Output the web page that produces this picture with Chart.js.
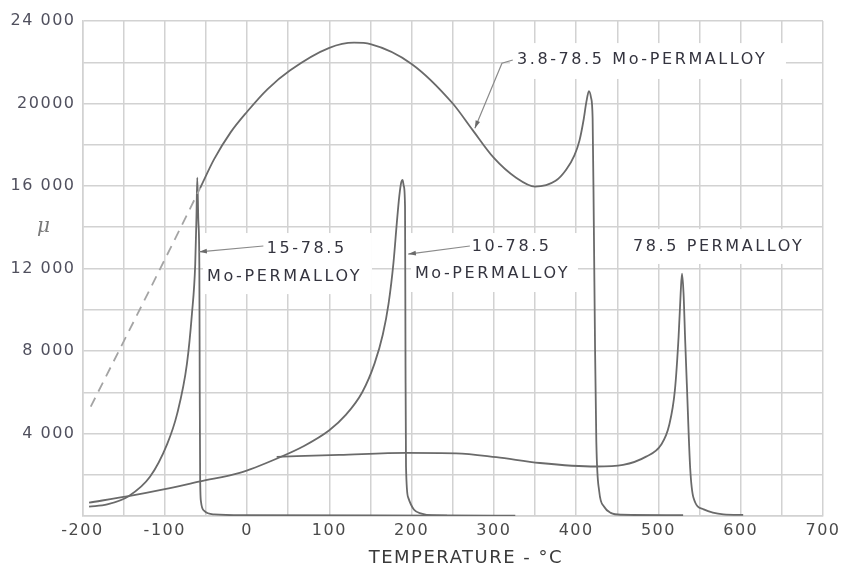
<!DOCTYPE html>
<html>
<head>
<meta charset="utf-8">
<script src="https://cdn.jsdelivr.net/npm/chart.js@4.4.1/dist/chart.umd.min.js"></script>
<style>
  body { margin: 0; background: #fff; }
  #wrap { width: 845px; height: 566px; }
</style>
</head>
<body>
<div id="wrap"><canvas id="permChart"></canvas></div>
<script>
// values (temperature in deg C, permeability mu)

// 3.8-78.5 Mo-Permalloy (dashed up to -57)
var temps38 = [-190, -123, -57, -40, -20, 0, 25, 52, 100, 130, 150, 200, 250, 274, 300, 327, 350, 375, 388, 398, 404, 409, 412.5, 415.5, 418, 420, 421.5, 423, 424.5, 428, 434, 442, 455, 530];
var mu38 = [5300, 10600, 15900, 17300, 18600, 19600, 20700, 21600, 22700, 22950, 22880, 21920, 20000, 18720, 17360, 16400, 15970, 16250, 16800, 17500, 18200, 19200, 20100, 20600, 20300, 19300, 14000, 8000, 3600, 1200, 450, 150, 60, 40];
var dashedUntil = -57;

// 15-78.5 Mo-Permalloy
var temps15 = [-192, -170, -144, -118, -97, -85, -73, -67, -63, -61.5, -60.5, -59.2, -58, -57.5, -57, -56, -52, -40, 0, 243];
var mu15 = [450, 560, 960, 1900, 3500, 4950, 7400, 9800, 12200, 14500, 16400, 14300, 12200, 6000, 1800, 700, 250, 80, 40, 20];

// 10-78.5 Mo-Permalloy
var temps10 = [-192, -144, -100, -57, -9, 40, 68, 100, 120, 140, 155, 165, 172, 178, 182, 185, 187.5, 189, 190.5, 192, 192.6, 193.2, 196, 203, 212, 225, 326];
var mu10 = [650, 960, 1300, 1680, 2090, 2850, 3370, 4160, 4900, 6000, 7400, 8800, 10300, 12300, 14200, 15500, 16200, 16300, 16000, 15000, 7200, 2400, 880, 300, 120, 40, 20];

// 78.5 Permalloy
var temps785 = [36, 112, 194, 254, 303, 356, 424, 457, 485, 503, 513, 520, 524.5, 527, 528.6, 530.5, 532.5, 534.6, 538.6, 542.6, 555, 579, 603];
var mu785 = [2870, 2960, 3060, 3040, 2850, 2570, 2400, 2480, 2880, 3440, 4400, 6100, 8700, 10800, 11750, 10800, 8500, 6300, 2300, 880, 320, 80, 50];

// tick labels
var xTickValues = [-200, -100, 0, 100, 200, 300, 400, 500, 600, 700];
var xTickText = ['-200', '-100', '0', '100', '200', '300', '400', '500', '600', '700'];
var yTickValues = [4000, 8000, 12000, 16000, 20000, 24000];
var yTickText = ['4 000', '8 000', '12 000', '16 000', '20000', '24 000'];

var curveColor = '#6a6a6a';
var gridColor = '#d2d2d2';
var textColor = '#34343f';

function toPoints(xs, ys) {
    var pts = [];
    for (var i = 0; i < xs.length; i++) {
        pts.push({ x: xs[i], y: ys[i] });
    }
    return pts;
}

// curve labels, placed in data units
var curveLabels = [
    { text: '3.8-78.5 Mo-PERMALLOY', x: 328, y: 22110 },
    { text: '15-78.5', x: 24, y: 12970 },
    { text: 'Mo-PERMALLOY', x: -48.7, y: 11610 },
    { text: '10-78.5', x: 273, y: 13060 },
    { text: 'Mo-PERMALLOY', x: 204, y: 11730 },
    { text: '78.5 PERMALLOY', x: 469, y: 13060 }
];
// white patches behind the labels (they hide the grid)
var labelBoxes = [
    [319.5, 22930, 655, 21190],
    [-53.5, 13720, 151.8, 10760],
    [199.2, 13720, 402.2, 10860],
    [462.9, 13910, 686.5, 12220]
];
// leader lines, last point carries an arrow
var leaders = [
    [[323, 22110], [309.8, 21950], [276.9, 18800]],
    [[19.8, 13090], [-58.1, 12810]],
    [[270.8, 13090], [195.9, 12700]]
];

var labelPlugin = {
    id: 'curveLabels',
    beforeDraw: function (chart) {
        chart.ctx.letterSpacing = '1.5px';
    },
    beforeDatasetsDraw: function (chart) {
        var ctx = chart.ctx, xs = chart.scales.x, ys = chart.scales.y;
        ctx.save();
        ctx.fillStyle = '#fff';
        labelBoxes.forEach(function (b) {
            var x0 = xs.getPixelForValue(b[0]), y0 = ys.getPixelForValue(b[1]);
            var x1 = xs.getPixelForValue(b[2]), y1 = ys.getPixelForValue(b[3]);
            ctx.fillRect(x0, y0, x1 - x0, y1 - y0);
        });
        ctx.restore();
    },
    afterDatasetsDraw: function (chart) {
        var ctx = chart.ctx, xs = chart.scales.x, ys = chart.scales.y;
        ctx.save();
        ctx.font = "16px 'DejaVu Sans'";
        ctx.letterSpacing = '2.6px';
        ctx.fillStyle = textColor;
        ctx.textAlign = 'left';
        ctx.textBaseline = 'middle';
        curveLabels.forEach(function (l) {
            ctx.fillText(l.text, xs.getPixelForValue(l.x), ys.getPixelForValue(l.y));
        });

        ctx.strokeStyle = '#8a8a8a';
        ctx.fillStyle = '#6a6a6a';
        ctx.lineWidth = 1.2;
        leaders.forEach(function (pts) {
            ctx.beginPath();
            pts.forEach(function (p, i) {
                var px = xs.getPixelForValue(p[0]), py = ys.getPixelForValue(p[1]);
                if (i === 0) ctx.moveTo(px, py); else ctx.lineTo(px, py);
            });
            ctx.stroke();
            // arrow head
            var a = pts[pts.length - 2], b = pts[pts.length - 1];
            var ax = xs.getPixelForValue(a[0]), ay = ys.getPixelForValue(a[1]);
            var bx = xs.getPixelForValue(b[0]), by = ys.getPixelForValue(b[1]);
            var ang = Math.atan2(by - ay, bx - ax);
            ctx.beginPath();
            ctx.moveTo(bx, by);
            ctx.lineTo(bx - 8 * Math.cos(ang - 0.3), by - 8 * Math.sin(ang - 0.3));
            ctx.lineTo(bx - 8 * Math.cos(ang + 0.3), by - 8 * Math.sin(ang + 0.3));
            ctx.closePath();
            ctx.fill();
        });

        // axis titles
        ctx.letterSpacing = '1.5px';
        ctx.fillStyle = '#3a3a3a';
        ctx.font = "18px 'DejaVu Sans'";
        ctx.textAlign = 'center';
        ctx.fillText('TEMPERATURE - °C', xs.getPixelForValue(266), chart.chartArea.bottom + 42);
        ctx.letterSpacing = '0px';
        ctx.fillStyle = '#7a7a7a';
        ctx.font = "italic 20px 'DejaVu Serif'";
        ctx.fillText('\u03bc', chart.chartArea.left - 39, ys.getPixelForValue(14000));
        ctx.restore();
    }
};

var lineBase = {
    borderColor: curveColor,
    borderWidth: 1.8,
    pointRadius: 0,
    fill: false,
    cubicInterpolationMode: 'monotone'
};

var ctx = document.getElementById('permChart').getContext('2d');
var myChart = new Chart(ctx, {
    type: 'scatter',
    data: {
        datasets: [
            Object.assign({}, lineBase, {
                label: '3.8-78.5 Mo-Permalloy',
                data: toPoints(temps38, mu38),
                showLine: true,
                segment: {
                    borderDash: function (c) { return c.p1.parsed.x <= dashedUntil ? [10, 7] : undefined; },
                    borderColor: function (c) { return c.p1.parsed.x <= dashedUntil ? '#a4a4a4' : undefined; }
                }
            }),
            Object.assign({}, lineBase, {
                label: '15-78.5 Mo-Permalloy',
                data: toPoints(temps15, mu15),
                showLine: true
            }),
            Object.assign({}, lineBase, {
                label: '10-78.5 Mo-Permalloy',
                data: toPoints(temps10, mu10),
                showLine: true
            }),
            Object.assign({}, lineBase, {
                label: '78.5 Permalloy',
                data: toPoints(temps785, mu785),
                showLine: true
            })
        ]
    },
    options: {
        responsive: true,
        maintainAspectRatio: false,
        animation: false,
        layout: { padding: { top: 21, right: 22, left: 0, bottom: 0 } },
        plugins: {
            legend: { display: false },
            tooltip: { enabled: false }
        },
        scales: {
            x: {
                type: 'linear',
                min: -200,
                max: 700,
                afterFit: function (scale) { scale.height = 50; },
                afterBuildTicks: function (scale) {
                    var t = [];
                    for (var v = -200; v <= 700; v += 50) t.push({ value: v });
                    scale.ticks = t;
                },
                grid: { color: gridColor, lineWidth: 1.5, drawTicks: false },
                border: { color: gridColor, width: 1.5 },
                ticks: {
                    padding: 5,
                    color: '#4a4a4a',
                    font: { family: 'DejaVu Sans', size: 16 },
                    maxRotation: 0,
                    autoSkip: false,
                    callback: function (value) {
                        var i = xTickValues.indexOf(value);
                        return i >= 0 ? xTickText[i] : '';
                    }
                }
            },
            y: {
                type: 'linear',
                min: 0,
                max: 24000,
                afterFit: function (scale) { scale.width = 82.5; },
                afterBuildTicks: function (scale) {
                    var t = [];
                    for (var v = 0; v <= 24000; v += 2000) t.push({ value: v });
                    scale.ticks = t;
                },
                grid: { color: gridColor, lineWidth: 1.5, drawTicks: false },
                border: { color: gridColor, width: 1.5 },
                ticks: {
                    padding: 7,
                    color: '#50505e',
                    font: { family: 'DejaVu Sans', size: 16 },
                    autoSkip: false,
                    callback: function (value) {
                        var i = yTickValues.indexOf(value);
                        return i >= 0 ? yTickText[i] : '';
                    }
                }
            }
        }
    },
    plugins: [labelPlugin]
});
</script>
</body>
</html>
